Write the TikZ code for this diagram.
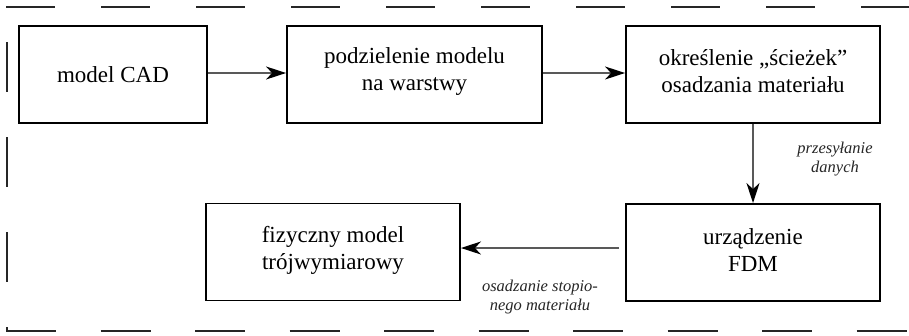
\documentclass[tikz,border=0pt]{standalone}
\usepackage{fontspec}
\setmainfont{Liberation Serif}
\usetikzlibrary{arrows.meta}
\begin{document}
\begin{tikzpicture}[x=1pt,y=-1pt,
  box/.style={draw=black, line width=1.9pt, minimum width=#1, minimum height=97pt, inner sep=0pt},
  boxtext/.style={align=center, inner sep=0pt, font=\fontsize{23}{27}\selectfont},
  lbl/.style={align=center, inner sep=0pt, font=\fontsize{16.5}{18.5}\selectfont\itshape, text=black!85},
  conn/.style={draw=black!65, line width=1.4pt, -{Stealth[length=20pt,width=13pt,inset=6pt,color=black]}},
  frame/.style={draw=black!85, line width=2pt}
]
\useasboundingbox (0,0) rectangle (909,335);
\clip (0,0) rectangle (909,335);
% dashed frame
\draw[frame, dash pattern=on 49pt off 46pt] (6,7) -- (930,7);
\draw[frame, dash pattern=on 50pt off 44.5pt] (6,331) -- (930,331);
\draw[frame, dash pattern=on 50pt off 45pt, dash phase=59pt] (7,6) -- (7,332);
% boxes
\node[box=188pt, boxtext] (b1) at (113,74.5) {model CAD};
\node[box=255pt] (b2) at (414.5,74.5) {};
\node[boxtext] (t2) at (414.5,71.5) {podzielenie modelu\\na warstwy};
\node[box=254pt] (b3) at (753,74.5) {};
\node[boxtext] (t3) at (753,71.5) {określenie „ścieżek”\\osadzania materiału};
\node[box=254pt] (b4) at (753,252.5) {};
\node[boxtext] (t4) at (753,250) {urządzenie\\FDM};
\node[box=254pt] (b5) at (333,252) {};
\node[boxtext] (t5) at (333,250) {fizyczny model\\trójwymiarowy};
% connectors
\draw[conn] ([yshift=1.5pt]b1.east) -- ([yshift=1.5pt]b2.west);
\draw[conn] ([yshift=1.5pt]b2.east) -- ([yshift=1.5pt]b3.west);
\draw[conn] (b3.south) -- (b4.north);
\draw[conn] ([xshift=-6pt,yshift=4.5pt]b4.west) -- ([yshift=4pt]b5.east);
% labels
\node[lbl] (l1) at (835,159) {przesyłanie\\danych};
\node[lbl] (l2) at (540,297) {osadzanie stopio-\\nego materiału};
\end{tikzpicture}
\end{document}
